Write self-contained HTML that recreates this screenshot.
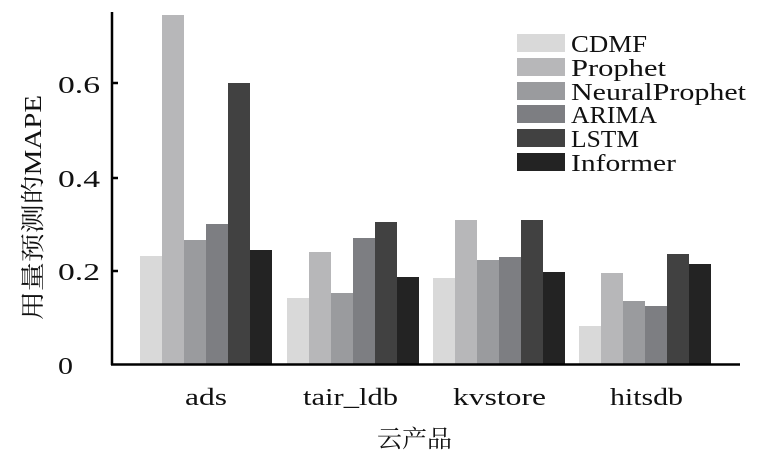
<!DOCTYPE html>
<html><head><meta charset="utf-8"><style>body{margin:0;background:#fff}</style></head><body>
<svg width="776" height="461" xmlns="http://www.w3.org/2000/svg" font-family="'Liberation Serif','Noto Serif CJK SC',serif" font-size="24" fill="#111">
<g>
<rect x="140" y="256" width="22" height="108" fill="#d9d9d9"/>
<rect x="162" y="15" width="22" height="349" fill="#b7b7b9"/>
<rect x="184" y="240" width="22" height="124" fill="#9a9b9e"/>
<rect x="206" y="224" width="22" height="140" fill="#7d7e82"/>
<rect x="228" y="83" width="22" height="281" fill="#414141"/>
<rect x="250" y="250" width="22" height="114" fill="#232323"/>

<rect x="287" y="298" width="22" height="66" fill="#d9d9d9"/>
<rect x="309" y="252" width="22" height="112" fill="#b7b7b9"/>
<rect x="331" y="293" width="22" height="71" fill="#9a9b9e"/>
<rect x="353" y="238" width="22" height="126" fill="#7d7e82"/>
<rect x="375" y="222" width="22" height="142" fill="#414141"/>
<rect x="397" y="277" width="22" height="87" fill="#232323"/>

<rect x="433" y="278" width="22" height="86" fill="#d9d9d9"/>
<rect x="455" y="220" width="22" height="144" fill="#b7b7b9"/>
<rect x="477" y="260" width="22" height="104" fill="#9a9b9e"/>
<rect x="499" y="257" width="22" height="107" fill="#7d7e82"/>
<rect x="521" y="220" width="22" height="144" fill="#414141"/>
<rect x="543" y="272" width="22" height="92" fill="#232323"/>

<rect x="579" y="326" width="22" height="38" fill="#d9d9d9"/>
<rect x="601" y="273" width="22" height="91" fill="#b7b7b9"/>
<rect x="623" y="301" width="22" height="63" fill="#9a9b9e"/>
<rect x="645" y="306" width="22" height="58" fill="#7d7e82"/>
<rect x="667" y="254" width="22" height="110" fill="#414141"/>
<rect x="689" y="264" width="22" height="100" fill="#232323"/>
</g>
<line x1="112" y1="12" x2="112" y2="365" stroke="#000" stroke-width="2.5"/>
<line x1="111" y1="364.5" x2="740" y2="364.5" stroke="#000" stroke-width="2.5"/>
<g stroke="#000" stroke-width="2.5">
<line x1="112" y1="83" x2="118" y2="83"/><line x1="112" y1="178" x2="118" y2="178"/><line x1="112" y1="271" x2="118" y2="271"/>
</g>
<g>
<text x="58" y="93" textLength="42" lengthAdjust="spacingAndGlyphs">0.6</text>
<text x="58" y="187" textLength="42" lengthAdjust="spacingAndGlyphs">0.4</text>
<text x="58" y="280" textLength="42" lengthAdjust="spacingAndGlyphs">0.2</text>
<text x="58" y="374" textLength="15" lengthAdjust="spacingAndGlyphs">0</text>
</g>
<g>
<text x="185" y="405" textLength="42" lengthAdjust="spacingAndGlyphs">ads</text>
<text x="303" y="405" textLength="95" lengthAdjust="spacingAndGlyphs">tair_ldb</text>
<text x="453" y="405" textLength="93" lengthAdjust="spacingAndGlyphs">kvstore</text>
<text x="610" y="405" textLength="73" lengthAdjust="spacingAndGlyphs">hitsdb</text>
<text x="377" y="447" font-size="24" textLength="75" lengthAdjust="spacingAndGlyphs">云产品</text>
</g>
<text transform="translate(41,320) rotate(-90)" font-size="24" textLength="225" lengthAdjust="spacingAndGlyphs">用量预测的MAPE</text>
<g>
<rect x="517" y="34" width="48" height="18" fill="#d9d9d9"/>
<rect x="517" y="58" width="48" height="18" fill="#b7b7b9"/>
<rect x="517" y="82" width="48" height="18" fill="#9a9b9e"/>
<rect x="517" y="105" width="48" height="18" fill="#7d7e82"/>
<rect x="517" y="129" width="48" height="18" fill="#414141"/>
<rect x="517" y="153" width="48" height="18" fill="#232323"/>
<text x="571" y="52" textLength="76" lengthAdjust="spacingAndGlyphs">CDMF</text>
<text x="571" y="76" textLength="95" lengthAdjust="spacingAndGlyphs">Prophet</text>
<text x="571" y="100" textLength="175" lengthAdjust="spacingAndGlyphs">NeuralProphet</text>
<text x="571" y="123" textLength="86" lengthAdjust="spacingAndGlyphs">ARIMA</text>
<text x="571" y="147" textLength="68" lengthAdjust="spacingAndGlyphs">LSTM</text>
<text x="571" y="171" textLength="105" lengthAdjust="spacingAndGlyphs">Informer</text>
</g>
</svg>
</body></html>
